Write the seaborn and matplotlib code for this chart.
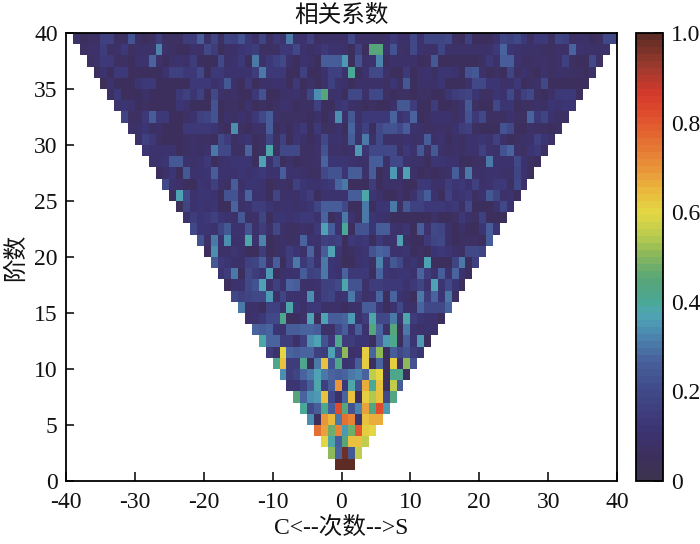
import numpy as np
import pandas as pd
import matplotlib
matplotlib.use("Agg")
import matplotlib.pyplot as plt
from matplotlib.colors import LinearSegmentedColormap
import seaborn as sns

# correlation (percent) per degree n, orders m = -n .. n: left part (m<0) + right part (m>=0)
row_01 = [100] + [100, 100]
row_02 = [50, 27] + [97, 24, 55]
row_03 = [60, 38, 25] + [45, 63, 63, 56]
row_04 = [76, 68, 47, 73] + [35, 47, 80, 62, 60]
row_05 = [33, 5, 69, 65, 30] + [75, 72, 12, 63, 66, 67]
row_06 = [40, 20, 25, 42, 25, 82] + [45, 22, 32, 68, 43, 82, 35]
row_07 = [45, 28, 33, 35, 64, 20, 8] + [28, 64, 5, 62, 54, 63, 20, 43]
row_08 = [12, 12, 17, 25, 38, 16, 25, 70] + [14, 38, 22, 67, 40, 63, 5, 55, 25]
row_09 = [33, 15, 18, 28, 30, 36, 30, 28, 25] + [28, 30, 32, 27, 55, 60, 5, 42, 42, 6]
row_10 = [42, 63, 15, 15, 42, 5, 30, 64, 22, 42] + [10, 12, 25, 62, 5, 28, 5, 62, 8, 50, 22]
row_11 = [15, 10, 60, 28, 26, 28, 28, 17, 15, 37, 20] + [50, 8, 10, 62, 27, 50, 6, 25, 20, 22, 15, 12]
row_12 = [38, 27, 28, 15, 15, 8, 16, 33, 36, 22, 14, 42] + [15, 15, 12, 12, 5, 25, 35, 42, 5, 25, 12, 35, 5]
row_13 = [28, 25, 28, 12, 10, 25, 25, 27, 27, 25, 8, 8, 20] + [25, 12, 25, 10, 45, 27, 8, 45, 5, 30, 10, 8, 10, 8]
row_14 = [8, 10, 14, 20, 20, 42, 6, 6, 8, 36, 6, 36, 25, 25] + [28, 35, 10, 15, 38, 20, 20, 30, 10, 38, 15, 12, 10, 10, 5]
row_15 = [30, 8, 8, 6, 16, 16, 10, 38, 12, 8, 14, 14, 8, 8, 8] + [6, 8, 8, 25, 25, 12, 6, 10, 20, 8, 8, 27, 20, 20, 20, 28]
row_16 = [20, 17, 18, 20, 20, 35, 8, 18, 10, 10, 10, 33, 10, 16, 18, 10] + [12, 30, 15, 8, 10, 28, 5, 27, 10, 8, 6, 30, 15, 27, 12, 31, 7]
row_17 = [6, 10, 10, 20, 22, 36, 8, 16, 10, 28, 26, 8, 8, 10, 17, 17, 20] + [38, 22, 22, 8, 15, 15, 14, 14, 14, 10, 14, 18, 10, 36, 12, 20, 12, 5]
row_18 = [12, 15, 30, 6, 20, 15, 12, 35, 6, 8, 10, 10, 25, 16, 18, 30, 12, 10] + [28, 14, 14, 14, 6, 27, 12, 10, 12, 12, 10, 27, 15, 10, 25, 10, 28, 10, 5]
row_19 = [24, 14, 12, 8, 8, 16, 18, 26, 8, 25, 6, 15, 30, 14, 20, 10, 30, 12, 10] + [4, 5, 10, 12, 7, 32, 12, 24, 20, 8, 12, 7, 36, 6, 5, 6, 18, 30, 6, 16]
row_20 = [5, 33, 8, 8, 12, 8, 6, 6, 15, 6, 7, 8, 15, 12, 8, 27, 8, 25, 37, 12] + [5, 7, 10, 12, 22, 28, 26, 10, 10, 12, 6, 7, 6, 12, 14, 12, 8, 7, 20, 20, 18]
row_21 = [22, 8, 30, 10, 33, 8, 10, 38, 10, 32, 6, 7, 8, 7, 8, 28, 10, 10, 17, 15, 17] + [5, 14, 12, 14, 6, 14, 8, 10, 36, 7, 5, 5, 14, 18, 20, 8, 5, 7, 7, 7, 5, 25]
row_22 = [20, 12, 12, 10, 18, 24, 10, 10, 22, 8, 15, 8, 20, 8, 7, 7, 8, 7, 14, 36, 25, 10] + [40, 6, 22, 22, 12, 25, 25, 10, 8, 12, 6, 25, 10, 20, 18, 8, 6, 8, 6, 6, 12, 26, 12]
row_23 = [10, 15, 12, 13, 16, 12, 10, 8, 24, 7, 8, 18, 6, 12, 12, 10, 12, 13, 13, 10, 28, 6, 10] + [30, 10, 6, 30, 12, 10, 8, 6, 6, 5, 5, 6, 6, 8, 6, 6, 7, 14, 8, 7, 16, 6, 6, 4]
row_24 = [4, 18, 10, 12, 10, 12, 6, 6, 27, 8, 10, 15, 15, 12, 8, 10, 10, 8, 10, 12, 18, 25, 26, 26] + [20, 6, 6, 30, 6, 12, 12, 30, 7, 24, 16, 16, 14, 14, 14, 12, 14, 7, 20, 6, 6, 6, 10, 20, 10]
row_25 = [5, 36, 20, 10, 12, 12, 10, 6, 22, 22, 10, 28, 10, 10, 6, 18, 8, 8, 8, 12, 15, 6, 10, 10, 10] + [10, 26, 26, 38, 12, 8, 6, 6, 8, 5, 10, 18, 25, 10, 6, 16, 10, 12, 14, 7, 10, 24, 18, 8, 10, 6]
row_26 = [20, 10, 8, 6, 6, 12, 10, 16, 8, 7, 26, 8, 12, 12, 10, 6, 7, 8, 7, 16, 12, 10, 10, 12, 14, 28] + [30, 6, 5, 6, 15, 6, 8, 8, 8, 6, 6, 14, 14, 8, 8, 15, 12, 14, 10, 16, 8, 10, 14, 14, 7, 20, 8]
row_27 = [6, 8, 12, 5, 24, 10, 10, 12, 25, 10, 10, 10, 12, 10, 12, 14, 10, 10, 26, 10, 10, 8, 7, 7, 20, 22, 22] + [12, 25, 25, 8, 25, 6, 8, 35, 8, 37, 8, 6, 7, 6, 7, 8, 25, 8, 30, 8, 8, 10, 10, 8, 8, 18, 10, 6]
row_28 = [10, 10, 12, 24, 24, 10, 8, 10, 14, 6, 8, 10, 12, 12, 12, 6, 37, 10, 20, 6, 8, 6, 7, 7, 8, 28, 12, 12] + [12, 10, 8, 8, 25, 25, 8, 20, 20, 10, 8, 8, 6, 12, 12, 10, 10, 6, 6, 7, 7, 30, 10, 10, 10, 20, 10, 7, 5]
row_29 = [12, 10, 10, 10, 10, 6, 7, 8, 7, 10, 30, 20, 20, 7, 7, 27, 6, 7, 38, 7, 20, 20, 20, 7, 7, 8, 22, 8, 8] + [7, 8, 35, 12, 20, 20, 20, 20, 7, 13, 10, 24, 8, 24, 8, 7, 8, 7, 10, 10, 16, 10, 8, 22, 28, 8, 7, 12, 14, 7]
row_30 = [8, 16, 14, 7, 5, 5, 5, 7, 8, 7, 7, 6, 20, 15, 7, 10, 12, 6, 7, 18, 7, 16, 6, 12, 8, 6, 8, 20, 10, 10] + [7, 25, 8, 30, 8, 20, 8, 8, 8, 10, 8, 8, 25, 8, 10, 6, 8, 7, 10, 10, 12, 10, 16, 8, 6, 7, 8, 8, 16, 12, 8]
row_31 = [8, 8, 12, 7, 8, 6, 6, 6, 14, 14, 14, 14, 12, 7, 6, 33, 7, 6, 8, 8, 26, 6, 8, 6, 10, 14, 6, 14, 7, 7, 10] + [6, 28, 10, 16, 6, 20, 22, 22, 20, 26, 10, 8, 7, 7, 8, 7, 10, 15, 16, 7, 6, 6, 6, 22, 20, 6, 6, 8, 7, 7, 6, 7]
row_32 = [18, 7, 7, 14, 26, 14, 14, 6, 6, 7, 10, 16, 18, 22, 6, 8, 7, 10, 7, 14, 20, 26, 8, 7, 7, 7, 7, 6, 8, 6, 8, 34] + [8, 24, 8, 14, 14, 14, 14, 28, 10, 14, 28, 6, 7, 10, 10, 10, 7, 10, 22, 14, 20, 7, 7, 7, 10, 7, 7, 28, 14, 18, 10, 7, 7]
row_33 = [10, 12, 10, 6, 7, 6, 6, 5, 6, 12, 10, 6, 5, 6, 22, 6, 7, 7, 6, 10, 6, 7, 6, 7, 10, 9, 6, 7, 7, 16, 5, 6, 12] + [14, 8, 7, 6, 7, 6, 6, 8, 24, 24, 15, 5, 5, 15, 5, 6, 7, 10, 24, 7, 6, 6, 20, 12, 12, 6, 7, 7, 8, 7, 12, 10, 12, 12]
row_34 = [7, 14, 6, 6, 6, 8, 6, 6, 6, 6, 14, 16, 12, 16, 6, 20, 8, 7, 8, 6, 6, 14, 22, 6, 6, 8, 8, 10, 7, 18, 33, 45, 8, 10] + [6, 20, 20, 8, 20, 20, 7, 6, 7, 7, 6, 7, 7, 6, 6, 12, 15, 16, 18, 12, 7, 7, 12, 10, 20, 8, 16, 20, 7, 6, 8, 14, 14, 14, 5]
row_35 = [4, 10, 6, 6, 6, 12, 14, 14, 6, 6, 6, 6, 6, 13, 13, 13, 8, 12, 24, 8, 6, 14, 6, 8, 8, 10, 10, 6, 14, 6, 8, 6, 8, 16, 10] + [8, 6, 8, 8, 8, 8, 7, 12, 7, 24, 6, 8, 8, 8, 12, 6, 6, 6, 8, 20, 20, 12, 12, 8, 8, 14, 6, 7, 8, 20, 6, 6, 6, 6, 6, 6]
row_36 = [6, 10, 6, 14, 14, 6, 6, 6, 6, 6, 10, 16, 17, 14, 14, 20, 6, 14, 14, 10, 10, 10, 10, 15, 30, 14, 14, 14, 6, 6, 16, 6, 6, 10, 16, 16] + [10, 40, 6, 10, 20, 20, 8, 6, 6, 14, 6, 8, 10, 7, 12, 12, 10, 6, 22, 24, 8, 6, 7, 6, 18, 7, 10, 7, 6, 10, 7, 8, 8, 7, 7, 6, 8]
row_37 = [7, 8, 14, 14, 7, 7, 6, 10, 10, 28, 8, 5, 8, 10, 8, 15, 6, 6, 6, 20, 8, 10, 14, 6, 30, 8, 14, 16, 20, 8, 6, 10, 8, 6, 25, 25, 25] + [35, 6, 22, 8, 10, 32, 6, 8, 8, 8, 8, 6, 7, 24, 5, 6, 5, 6, 6, 6, 7, 14, 8, 26, 26, 10, 7, 7, 8, 8, 7, 8, 16, 7, 6, 6, 20, 7]
row_38 = [7, 8, 8, 15, 7, 8, 14, 7, 9, 8, 8, 32, 8, 7, 6, 6, 8, 8, 20, 15, 6, 8, 8, 12, 13, 15, 7, 7, 7, 14, 14, 20, 10, 7, 10, 13, 10, 10] + [8, 6, 16, 6, 44, 44, 10, 22, 8, 7, 20, 10, 8, 8, 18, 8, 8, 8, 8, 8, 8, 8, 14, 28, 12, 10, 8, 8, 8, 7, 7, 8, 8, 28, 10, 8, 8, 8, 8]
row_39 = [8, 6, 7, 7, 16, 16, 7, 7, 22, 7, 6, 7, 15, 7, 7, 7, 15, 15, 25, 8, 18, 7, 18, 16, 22, 14, 8, 18, 7, 13, 10, 30, 10, 10, 17, 7, 8, 8, 8] + [8, 20, 8, 8, 8, 7, 8, 14, 8, 8, 20, 10, 18, 18, 18, 20, 7, 6, 16, 5, 5, 5, 10, 18, 16, 20, 14, 7, 14, 14, 7, 18, 16, 7, 8, 8, 6, 7, 20, 20]

degree_rows = [row_01, row_02, row_03, row_04, row_05, row_06, row_07, row_08, row_09, row_10,
               row_11, row_12, row_13, row_14, row_15, row_16, row_17, row_18, row_19, row_20,
               row_21, row_22, row_23, row_24, row_25, row_26, row_27, row_28, row_29, row_30,
               row_31, row_32, row_33, row_34, row_35, row_36, row_37, row_38, row_39]

bad = [(i + 1, len(r), 2 * i + 3) for i, r in enumerate(degree_rows) if len(r) != 2 * i + 3]
if bad:
    raise ValueError(f"row length mismatch (n, got, want): {bad}")

x_ticks = [-40, -30, -20, -10, 0, 10, 20, 30, 40]
y_ticks = [0, 5, 10, 15, 20, 25, 30, 35, 40]
cbar_ticks = [0, 0.2, 0.4, 0.6, 0.8, 1.0]
cbar_labels = ["0", "0.2", "0.4", "0.6", "0.8", "1.0"]

stops = [(0.00, "#3c3350"), (0.05, "#3d2f5e"), (0.10, "#3c3270"), (0.20, "#404a8a"),
         (0.27, "#48639d"), (0.33, "#4c8cb0"), (0.37, "#4ea5b4"), (0.40, "#4aa894"),
         (0.45, "#58a578"), (0.50, "#84b65e"), (0.55, "#bccb4c"), (0.60, "#e4d844"),
         (0.65, "#eab93c"), (0.70, "#e9953a"), (0.75, "#e57734"), (0.80, "#e2592e"),
         (0.87, "#d4392b"), (0.93, "#9e3a2e"), (1.00, "#5e2c24")]
cmap = LinearSegmentedColormap.from_list("print_turbo", stops, N=64)

orders = np.arange(-40, 40)
degrees = np.arange(0, 40)
table = pd.DataFrame(np.nan, index=degrees, columns=orders)
for n, vals in enumerate(degree_rows, start=1):
    table.loc[n, np.arange(-n, n + 1)] = np.array(vals) / 100.0

sns.set_theme(style="white")
plt.rcParams["font.family"] = ["Liberation Serif", "Noto Sans CJK SC"]
plt.rcParams["axes.unicode_minus"] = False

W, H = 700, 544
FS = 17
fig = plt.figure(figsize=(W / 100, H / 100), dpi=100)
ax = fig.add_axes([66 / W, 1 - 481 / H, (617 - 66) / W, (481 - 33) / H])
cax = fig.add_axes([636 / W, 1 - 481 / H, (663 - 636) / W, (481 - 33) / H])

sns.heatmap(table, ax=ax, cbar_ax=cax, cmap=cmap, vmin=0, vmax=1, square=False,
            xticklabels=False, yticklabels=False, linewidths=0, rasterized=True,
            cbar_kws={"ticks": cbar_ticks})

ax.set_xlim(0, 80)
ax.set_ylim(0, 40)
ax.set_xticks([v + 40 for v in x_ticks])
ax.set_xticklabels([str(v) for v in x_ticks])
ax.set_yticks(y_ticks)
ax.set_yticklabels([str(v) for v in y_ticks], rotation=0)
ax.tick_params(axis="both", direction="in", width=1.1, color="black",
               labelsize=FS, labelcolor="#111111", bottom=True, left=True, top=False, right=False)
ax.tick_params(axis="x", length=6.5, pad=8)
ax.tick_params(axis="y", length=5.5, pad=6)
for s in ax.spines.values():
    s.set_visible(True)
    s.set_color("black")
    s.set_linewidth(1.3)

ax.set_title("相关系数", fontsize=FS, color="#111111", pad=8)
ax.set_xlabel("C<--次数-->S", fontsize=FS, color="#111111", labelpad=3)
ax.set_ylabel("阶数", fontsize=FS, color="#111111", labelpad=5)

cbar = ax.collections[0].colorbar
cbar.set_ticks(cbar_ticks)
cbar.set_ticklabels(cbar_labels)
cbar.outline.set_visible(True)
cbar.outline.set_edgecolor("black")
cbar.outline.set_linewidth(1.3)
cax.tick_params(axis="y", direction="in", length=6.5, width=1.1, color="black",
                labelsize=FS, labelcolor="#111111", left=False, right=True, pad=6)

fig.savefig("out.png", dpi=100, facecolor="white")
